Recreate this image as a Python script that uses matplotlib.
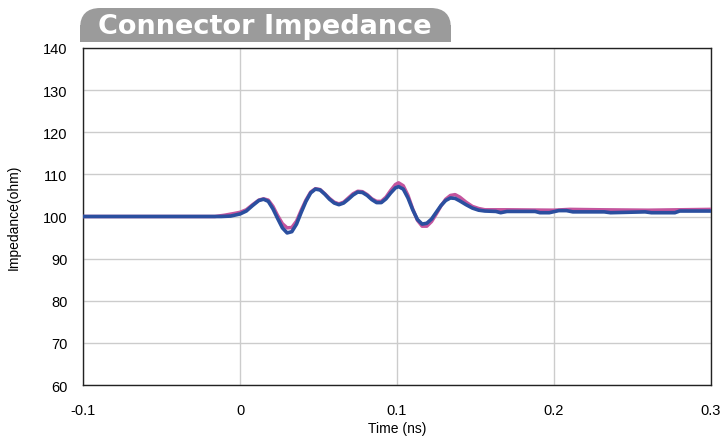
import matplotlib
matplotlib.use("Agg")
import matplotlib.pyplot as plt
from matplotlib.patches import FancyBboxPatch, Rectangle

# time (ns) / impedance (ohm)
t_blue = [-0.1, -0.012, -0.006, 0.0, 0.004, 0.008, 0.012, 0.015, 0.018, 0.021,
          0.024, 0.027, 0.030, 0.033, 0.036, 0.039, 0.042, 0.045, 0.048, 0.051,
          0.054, 0.057, 0.060, 0.063, 0.066, 0.069, 0.072, 0.075, 0.078, 0.081,
          0.084, 0.087, 0.090, 0.093, 0.096, 0.099, 0.101, 0.104, 0.107, 0.110,
          0.113, 0.116, 0.119, 0.122, 0.125, 0.128, 0.131, 0.134, 0.137, 0.140,
          0.144, 0.148, 0.152, 0.156, 0.163, 0.166, 0.170, 0.188, 0.191, 0.197,
          0.203, 0.208, 0.212, 0.232, 0.236, 0.258, 0.262, 0.277, 0.280, 0.3]
z_blue = [100.0, 100.0, 100.1, 100.6, 101.3, 102.6, 103.8, 104.1, 103.6, 101.8,
          99.5, 97.3, 96.1, 96.4, 98.2, 101.0, 103.6, 105.6, 106.5, 106.3,
          105.3, 104.1, 103.2, 102.8, 103.2, 104.1, 105.1, 105.8, 105.7, 105.0,
          104.0, 103.3, 103.3, 104.2, 105.6, 106.8, 107.1, 106.5, 104.4, 101.6,
          99.3, 98.2, 98.4, 99.4, 101.0, 102.6, 103.8, 104.4, 104.3, 103.7,
          102.8, 102.0, 101.5, 101.3, 101.2, 100.9, 101.2, 101.2, 100.9, 100.9,
          101.4, 101.4, 101.1, 101.1, 100.9, 101.1, 100.9, 100.9, 101.3, 101.3]

t_pink = [-0.1, -0.016, -0.010, -0.004, 0.0, 0.004, 0.008, 0.012, 0.015, 0.018,
          0.021, 0.024, 0.027, 0.030, 0.033, 0.036, 0.039, 0.042, 0.045, 0.048,
          0.051, 0.054, 0.057, 0.060, 0.063, 0.066, 0.069, 0.072, 0.075, 0.078,
          0.081, 0.084, 0.087, 0.090, 0.093, 0.096, 0.099, 0.101, 0.104, 0.107,
          0.110, 0.113, 0.116, 0.119, 0.122, 0.125, 0.128, 0.131, 0.134, 0.137,
          0.140, 0.144, 0.148, 0.152, 0.156, 0.170, 0.200, 0.210, 0.230, 0.260,
          0.280, 0.3]
z_pink = [100.0, 100.0, 100.3, 100.7, 101.0, 101.6, 102.8, 103.9, 104.2, 103.9,
          102.4, 100.2, 98.3, 97.3, 97.4, 98.9, 101.5, 103.9, 105.8, 106.6,
          106.4, 105.4, 104.3, 103.4, 103.0, 103.4, 104.4, 105.4, 106.0, 105.9,
          105.2, 104.2, 103.6, 103.6, 104.6, 106.2, 107.6, 108.0, 107.3, 105.0,
          101.8, 99.1, 97.7, 97.7, 98.8, 100.6, 102.5, 104.1, 105.0, 105.2,
          104.6, 103.4, 102.4, 101.9, 101.6, 101.6, 101.5, 101.7, 101.6, 101.5,
          101.6, 101.7]

x_ticks = [-0.1, 0, 0.1, 0.2, 0.3]
x_labels = ["-0.1", "0", "0.1", "0.2", "0.3"]
y_ticks = [60, 70, 80, 90, 100, 110, 120, 130, 140]

plt.rcParams['font.family'] = ['Liberation Sans', 'DejaVu Sans']

fig = plt.figure(figsize=(7.25, 4.39), dpi=100)
ax = fig.add_axes([0.1145, 0.1207, 0.8662, 0.7677])

ax.plot(t_pink, z_pink, color="#c4559e", lw=2.5, solid_joinstyle="round", zorder=3)
ax.plot(t_blue, z_blue, color="#2b4f9f", lw=2.6, solid_joinstyle="round", zorder=4)

ax.set_xlim(-0.1, 0.3)
ax.set_ylim(60, 140)
ax.set_xticks(x_ticks)
ax.set_xticklabels(x_labels)
ax.set_yticks(y_ticks)
ax.tick_params(length=0, labelsize=10.5)
ax.tick_params(axis='y', pad=11)
ax.tick_params(axis='x', pad=13)
ax.grid(True, color="#cccccc", lw=1)
ax.set_axisbelow(True)
for s in ax.spines.values():
    s.set_color("#222222")
    s.set_linewidth(1)

ax.set_xlabel("Time (ns)", fontsize=10, labelpad=3)
ax.set_ylabel("Impedance(ohm)", fontsize=10, labelpad=16)

# title tab
W, H = 725.0, 439.0
tab = FancyBboxPatch((80 / W, (H - 43) / H), 371 / W, 34 / H,
                     boxstyle="round,pad=0,rounding_size=0.028",
                     transform=fig.transFigure, fc="#9b9b9b", ec="none",
                     mutation_aspect=W / H)
fig.patches.append(tab)
fig.patches.append(Rectangle((80 / W, (H - 43) / H), 371 / W, 17 / H,
                             transform=fig.transFigure, fc="#9b9b9b", ec="none"))
fig.text(265 / W, (H - 27) / H, "Connector Impedance", color="white",
         fontsize=19.5, fontweight="bold", family="DejaVu Sans",
         ha="center", va="center")

fig.savefig("out.png", dpi=100)
